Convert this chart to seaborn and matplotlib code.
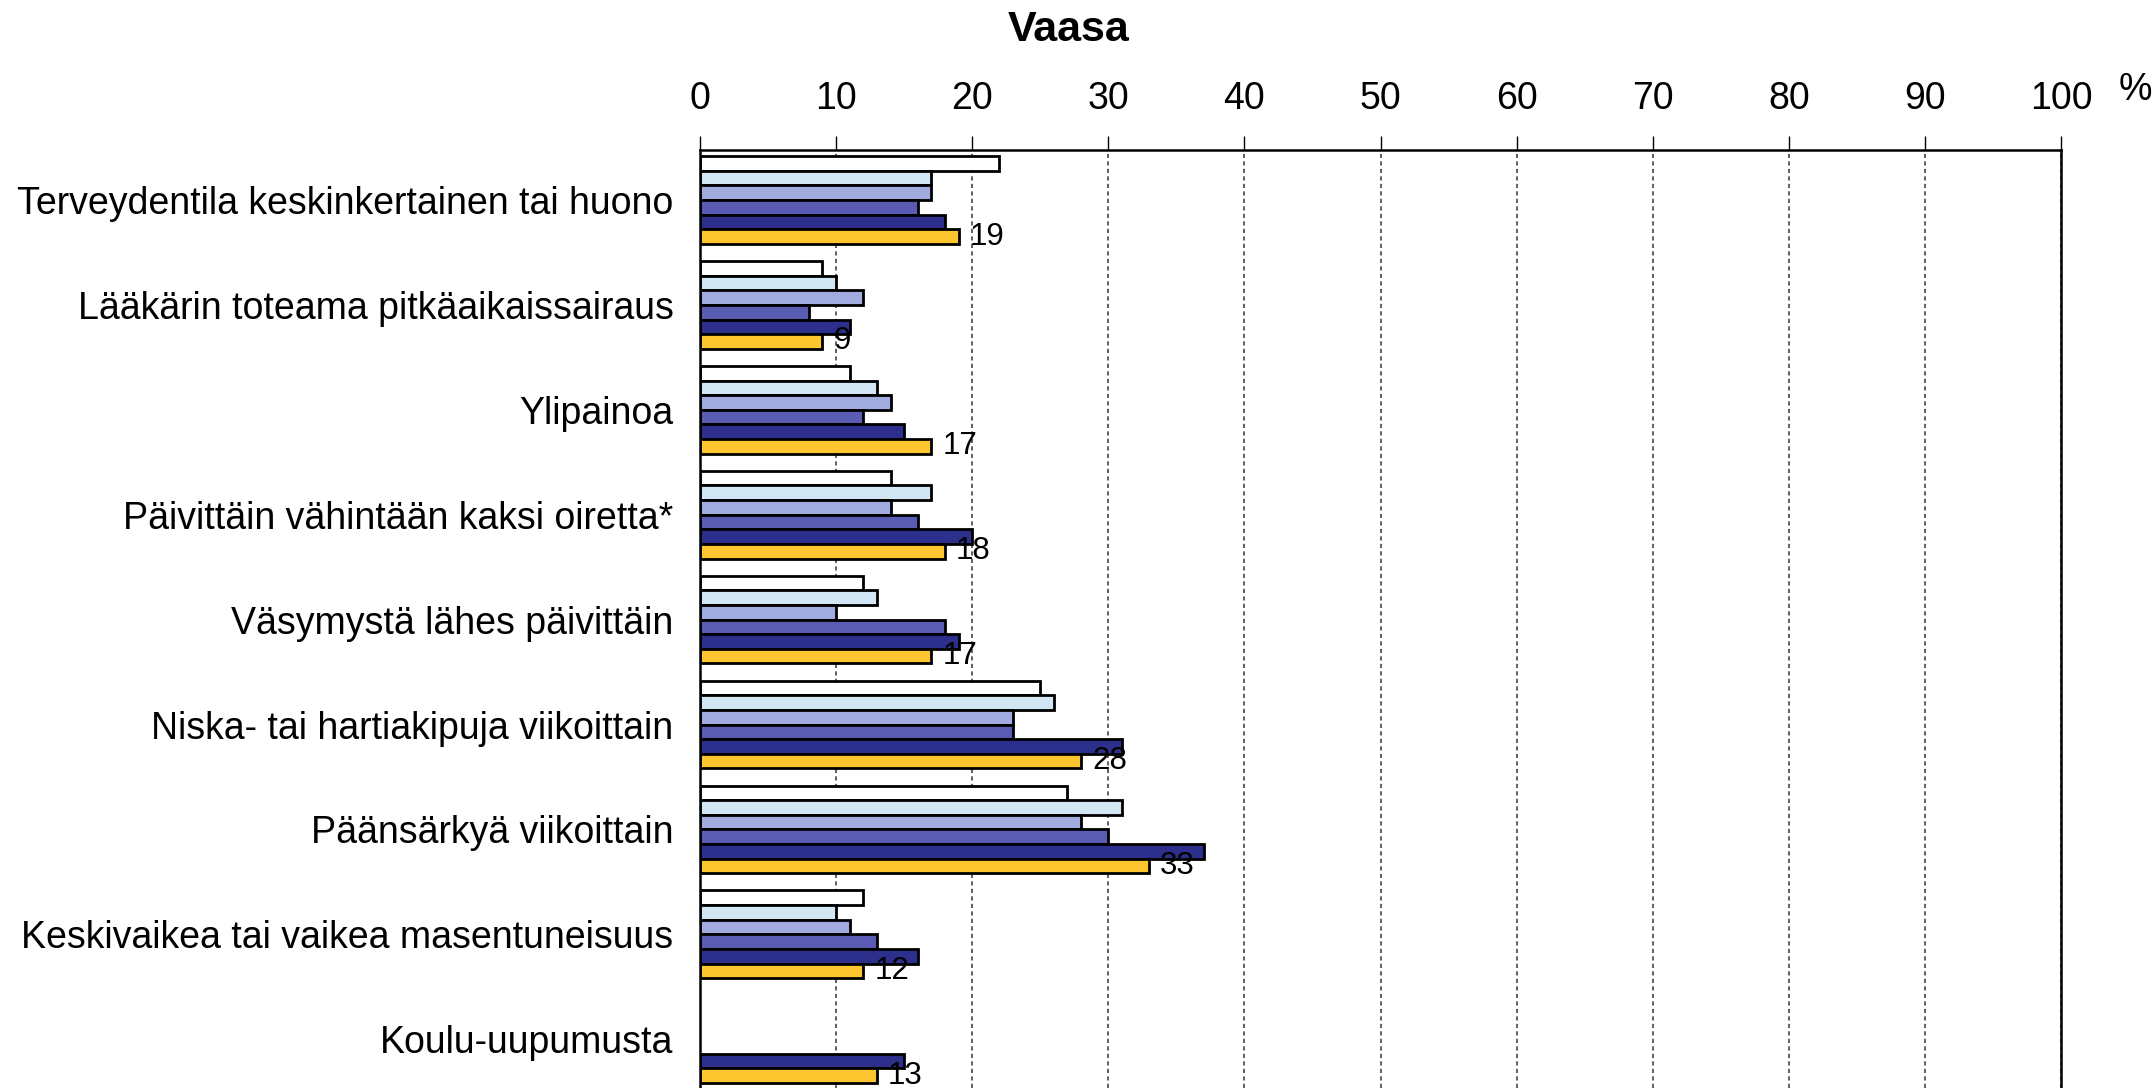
import numpy as np
import pandas as pd
import seaborn as sns
import matplotlib.pyplot as plt

categories = [
    "Terveydentila keskinkertainen tai huono",
    "Lääkärin toteama pitkäaikaissairaus",
    "Ylipainoa",
    "Päivittäin vähintään kaksi oiretta*",
    "Väsymystä lähes päivittäin",
    "Niska- tai hartiakipuja viikoittain",
    "Päänsärkyä viikoittain",
    "Keskivaikea tai vaikea masentuneisuus",
    "Koulu-uupumusta",
]
series = ["s1", "s2", "s3", "s4", "s5", "s6"]
s1 = [22, 9, 11, 14, 12, 25, 27, 12, np.nan]
s2 = [17, 10, 13, 17, 13, 26, 31, 10, np.nan]
s3 = [17, 12, 14, 14, 10, 23, 28, 11, np.nan]
s4 = [16, 8, 12, 16, 18, 23, 30, 13, np.nan]
s5 = [18, 11, 15, 20, 19, 31, 37, 16, 15]
s6 = [19, 9, 17, 18, 17, 28, 33, 12, 13]
colors = ["#ffffff", "#d2e6f4", "#a2abe0", "#5a5cb4", "#2c2f8c", "#fdc62e"]
xticks = [0, 10, 20, 30, 40, 50, 60, 70, 80, 90, 100]

rows = []
for name, vals in zip(series, [s1, s2, s3, s4, s5, s6]):
    for cat, v in zip(categories, vals):
        if not np.isnan(v):
            rows.append({"cat": cat, "series": name, "value": v})
df = pd.DataFrame(rows)

sns.set_style("white")
plt.rcParams["font.family"] = ["Liberation Sans", "DejaVu Sans"]
plt.rcParams["text.color"] = "black"

W, H = 2154, 1088
fig = plt.figure(figsize=(W / 100, H / 100), dpi=100)
ax = fig.add_axes([700 / W, 0, (2061 - 700) / W, 1 - 150 / H])

sns.barplot(data=df, y="cat", x="value", hue="series", order=categories,
            hue_order=series, palette=colors, orient="h", width=0.836,
            errorbar=None, edgecolor="black", linewidth=2, legend=False,
            saturation=1, ax=ax)

ax.bar_label(ax.containers[-1], fmt="%d", padding=8, fontsize=22.5, color="black")

ax.set_xlim(0, 100)
ax.set_ylim(8.465, -0.477)
ax.set_xlabel("")
ax.set_ylabel("")
ax.xaxis.tick_top()
ax.set_xticks(xticks)
ax.tick_params(axis="x", direction="out", length=10, width=1, pad=14, labelsize=27, colors="black")
ax.tick_params(axis="y", length=0, pad=19, labelsize=27, colors="black")
ax.set_axisbelow(True)
ax.xaxis.grid(True, linestyle=(0, (2.5, 2)), color="#444444", linewidth=1.2)
ax.spines["bottom"].set_visible(False)
for s in ["top", "left", "right"]:
    ax.spines[s].set_color("black")
    ax.spines[s].set_linewidth(1.8)

fig.text(1069 / W, 1 - 30 / H, "Vaasa", fontsize=31, fontweight="bold", ha="center", va="center")
fig.text(2135 / W, 1 - 90 / H, "%", fontsize=27, ha="center", va="center")

fig.savefig("out.png", dpi=100)
